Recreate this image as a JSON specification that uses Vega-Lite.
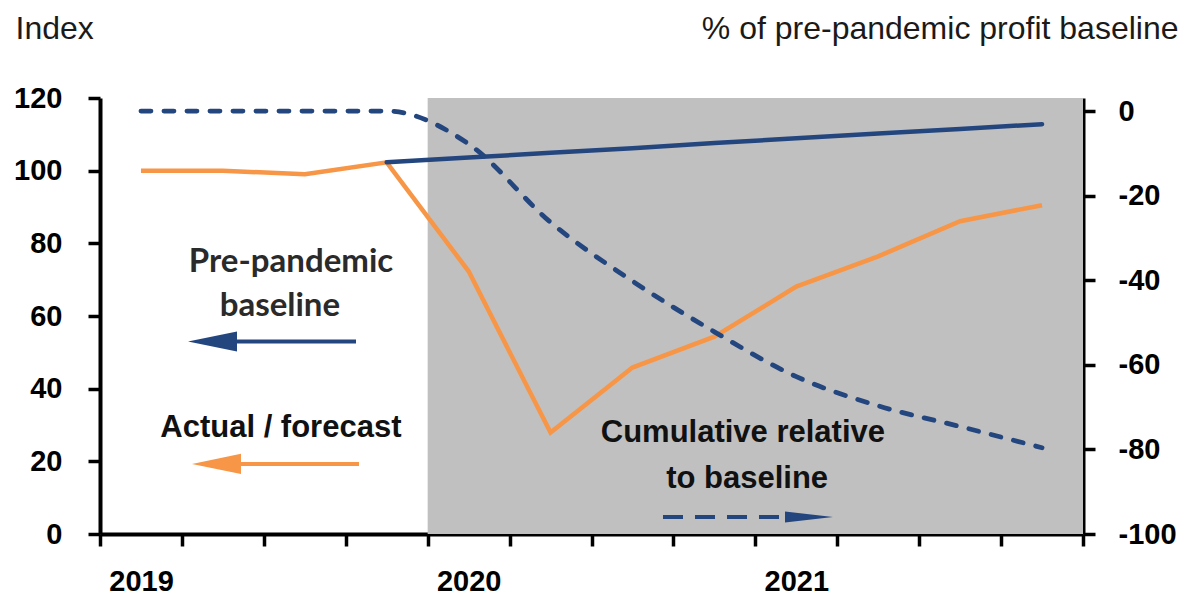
{
  "$schema": "https://vega.github.io/schema/vega-lite/v6.json",
  "autosize": {"type": "none"},
  "width": 983,
  "height": 436,
  "padding": {"left": 100, "top": 98, "right": 104, "bottom": 65},
  "background": "white",
  "config": {
    "view": {"stroke": null},
    "axis": {
      "grid": false,
      "domainColor": "black",
      "tickColor": "black",
      "labelColor": "black",
      "domainWidth": 4,
      "tickWidth": 3.5,
      "tickSize": 12,
      "labelFont": "Liberation Sans",
      "labelFontWeight": "bold",
      "labelFontSize": 29,
      "titleFont": "Liberation Sans",
      "titleFontWeight": "normal",
      "titleFontSize": 32,
      "titleColor": "#1a1a1a"
    }
  },
  "datasets": {
    "series": [
      {"t": 2019.125, "series": "actual", "value": 100},
      {"t": 2019.375, "series": "actual", "value": 100},
      {"t": 2019.625, "series": "actual", "value": 99},
      {"t": 2019.875, "series": "actual", "value": 102.3},
      {"t": 2020.125, "series": "actual", "value": 72.3},
      {"t": 2020.375, "series": "actual", "value": 27.9},
      {"t": 2020.625, "series": "actual", "value": 45.8},
      {"t": 2020.875, "series": "actual", "value": 54.3},
      {"t": 2021.125, "series": "actual", "value": 68.1},
      {"t": 2021.375, "series": "actual", "value": 76.4},
      {"t": 2021.625, "series": "actual", "value": 86.1},
      {"t": 2021.875, "series": "actual", "value": 90.5},
      {"t": 2019.875, "series": "baseline", "value": 102.3},
      {"t": 2020.125, "series": "baseline", "value": 103.6},
      {"t": 2020.375, "series": "baseline", "value": 104.9},
      {"t": 2020.625, "series": "baseline", "value": 106.2},
      {"t": 2020.875, "series": "baseline", "value": 107.6},
      {"t": 2021.125, "series": "baseline", "value": 108.9},
      {"t": 2021.375, "series": "baseline", "value": 110.2},
      {"t": 2021.625, "series": "baseline", "value": 111.5},
      {"t": 2021.875, "series": "baseline", "value": 112.8},
      {"t": 2019.125, "series": "cumulative", "value": 0},
      {"t": 2019.375, "series": "cumulative", "value": 0},
      {"t": 2019.625, "series": "cumulative", "value": 0},
      {"t": 2019.875, "series": "cumulative", "value": 0},
      {"t": 2020.125, "series": "cumulative", "value": -7.8},
      {"t": 2020.375, "series": "cumulative", "value": -26.3},
      {"t": 2020.625, "series": "cumulative", "value": -40.2},
      {"t": 2020.875, "series": "cumulative", "value": -52.2},
      {"t": 2021.125, "series": "cumulative", "value": -62.8},
      {"t": 2021.375, "series": "cumulative", "value": -69.7},
      {"t": 2021.625, "series": "cumulative", "value": -74.6},
      {"t": 2021.875, "series": "cumulative", "value": -79.6}
    ],
    "shade": [{"start": 2020, "end": 2022}],
    "notesA": [
      {"text": "Pre-pandemic", "t": 2019.583, "value": 72.0},
      {"text": "baseline", "t": 2019.549, "value": 59.9}
    ],
    "notesB": [
      {"text": "Actual / forecast", "t": 2019.552, "value": 26.8},
      {"text": "Cumulative relative", "t": 2020.962, "value": 25.4},
      {"text": "to baseline", "t": 2020.975, "value": 12.7}
    ],
    "arrows": [
      {"series": "baseline", "t": 2019.7813, "t2": 2019.38, "head": 2019.3433, "value": 53},
      {"series": "actual", "t": 2019.7904, "t2": 2019.39, "head": 2019.3555, "value": 19.3},
      {"series": "cumulative", "t": 2020.7182, "t2": 2021.11, "head": 2021.1638, "value": 4.7}
    ]
  },
  "layer": [
    {
      "data": {"name": "shade"},
      "mark": {"type": "rect", "color": "#C0C0C0"},
      "encoding": {
        "x": {
          "field": "start",
          "type": "quantitative",
          "scale": {"domain": [2019, 2022], "nice": false, "zero": false},
          "axis": {
            "values": [2019, 2019.25, 2019.5, 2019.75, 2020, 2020.25, 2020.5, 2020.75, 2021, 2021.25, 2021.5, 2021.75, 2022],
            "labelExpr": "datum.value == 2019 ? '2019' : datum.value == 2020 ? '2020' : datum.value == 2021 ? '2021' : ''",
            "labelOffset": 41,
            "labelPadding": 21,
            "labelOverlap": false,
            "labelFlush": false,
            "labelBaseline": "top",
            "labelAlign": "center",
            "title": null
          }
        },
        "x2": {"field": "end"}
      }
    },
    {
      "layer": [
        {
          "data": {"name": "series"},
          "transform": [{"filter": "datum.series == 'actual'"}],
          "mark": {"type": "line", "color": "#F79646", "strokeWidth": 4.5, "strokeJoin": "miter"},
          "encoding": {
            "x": {"field": "t", "type": "quantitative", "title": null},
            "y": {
              "field": "value",
              "type": "quantitative",
              "scale": {"domain": [0, 120], "nice": false, "zero": false},
              "axis": {
                "orient": "left",
                "values": [0, 20, 40, 60, 80, 100, 120],
                "labelPadding": 26,
                "title": "Index",
                "titleAngle": 0,
                "titleAlign": "left",
                "titleBaseline": "alphabetic",
                "titleAnchor": "start",
                "titleX": -85,
                "titleY": -60
              }
            }
          }
        },
        {
          "data": {"name": "series"},
          "transform": [{"filter": "datum.series == 'baseline'"}],
          "mark": {"type": "line", "color": "#24467F", "strokeWidth": 4.5, "strokeCap": "round"},
          "encoding": {
            "x": {"field": "t", "type": "quantitative", "title": null},
            "y": {"field": "value", "type": "quantitative", "title": "Index"}
          }
        },
        {
          "data": {"name": "notesA"},
          "mark": {"type": "text", "font": "Lato", "fontWeight": "bold", "fontSize": 33, "color": "#2a2a2a", "baseline": "alphabetic", "align": "center"},
          "encoding": {
            "x": {"field": "t", "type": "quantitative", "title": null},
            "y": {"field": "value", "type": "quantitative", "title": "Index"},
            "text": {"field": "text"}
          }
        },
        {
          "data": {"name": "notesB"},
          "mark": {"type": "text", "font": "Liberation Sans", "fontWeight": "bold", "fontSize": 31, "color": "#111111", "baseline": "alphabetic", "align": "center"},
          "encoding": {
            "x": {"field": "t", "type": "quantitative", "title": null},
            "y": {"field": "value", "type": "quantitative", "title": "Index"},
            "text": {"field": "text"}
          }
        },
        {
          "data": {"name": "arrows"},
          "transform": [{"filter": "datum.series == 'baseline'"}],
          "layer": [
            {"mark": {"type": "rule", "color": "#24467F", "strokeWidth": 4},
             "encoding": {"x2": {"field": "t2"}}},
            {"mark": {"type": "point", "filled": true, "color": "#24467F", "opacity": 1, "size": 2401, "shape": "M-1,0L1,-0.41L1,0.41Z"},
             "encoding": {"x": {"field": "head", "type": "quantitative", "title": null}}}
          ],
          "encoding": {
            "x": {"field": "t", "type": "quantitative", "title": null},
            "y": {"field": "value", "type": "quantitative", "title": "Index"}
          }
        },
        {
          "data": {"name": "arrows"},
          "transform": [{"filter": "datum.series == 'actual'"}],
          "layer": [
            {"mark": {"type": "rule", "color": "#F79646", "strokeWidth": 4},
             "encoding": {"x2": {"field": "t2"}}},
            {"mark": {"type": "point", "filled": true, "color": "#F79646", "opacity": 1, "size": 2401, "shape": "M-1,0L1,-0.41L1,0.41Z"},
             "encoding": {"x": {"field": "head", "type": "quantitative", "title": null}}}
          ],
          "encoding": {
            "x": {"field": "t", "type": "quantitative", "title": null},
            "y": {"field": "value", "type": "quantitative", "title": "Index"}
          }
        },
        {
          "data": {"name": "arrows"},
          "transform": [{"filter": "datum.series == 'cumulative'"}],
          "layer": [
            {"mark": {"type": "rule", "color": "#24467F", "strokeWidth": 4, "strokeDash": [20, 12]},
             "encoding": {"x2": {"field": "t2"}}},
            {"mark": {"type": "point", "filled": true, "color": "#24467F", "opacity": 1, "size": 2304, "shape": "M1,0L-1,-0.23L-1,0.23Z"},
             "encoding": {"x": {"field": "head", "type": "quantitative", "title": null}}}
          ],
          "encoding": {
            "x": {"field": "t", "type": "quantitative", "title": null},
            "y": {"field": "value", "type": "quantitative", "title": "Index"}
          }
        }
      ]
    },
    {
      "data": {"name": "series"},
      "transform": [{"filter": "datum.series == 'cumulative'"}],
      "mark": {"type": "line", "color": "#24467F", "strokeWidth": 4.8, "strokeDash": [10, 13], "strokeCap": "round", "interpolate": "monotone"},
      "encoding": {
        "x": {"field": "t", "type": "quantitative", "title": null},
        "y": {
          "field": "value",
          "type": "quantitative",
          "scale": {"domain": [-100, 3.08], "nice": false, "zero": false},
          "axis": {
            "orient": "right",
            "values": [-100, -80, -60, -40, -20, 0],
            "labelExpr": "'' + datum.value",
            "labelPadding": 23,
            "title": "% of pre-pandemic profit baseline",
            "titleAngle": 0,
            "titleAlign": "right",
            "titleBaseline": "alphabetic",
            "titleAnchor": "start",
            "titleX": 95,
            "titleY": -60
          }
        }
      }
    }
  ],
  "resolve": {"scale": {"y": "independent"}, "axis": {"y": "independent"}}
}
